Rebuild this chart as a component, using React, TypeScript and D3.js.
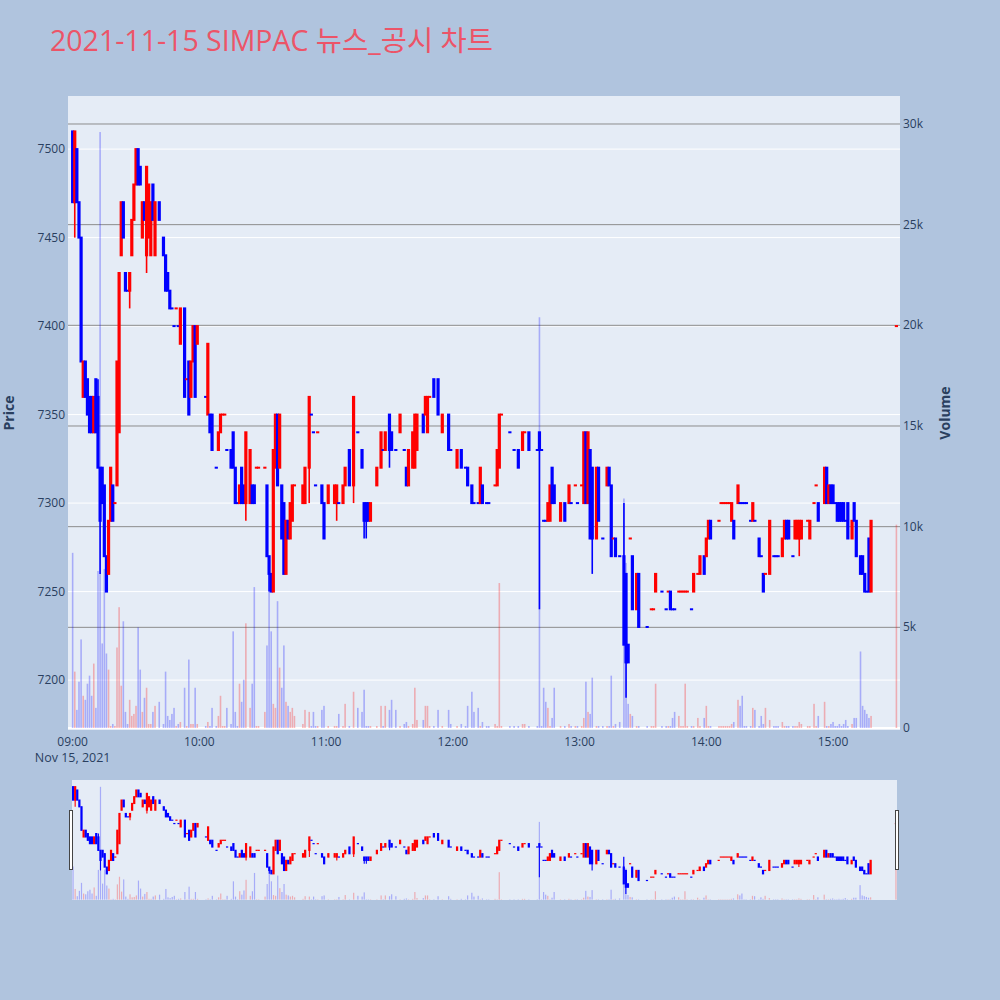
import React from "react";
import * as d3 from "d3";

// 2021-11-15 SIMPAC one-minute candles (price in KRW, volume in thousand shares)
const tradeDate = "2021-11-15";
const chartTitle = "2021-11-15 SIMPAC 뉴스_공시 차트";

const times = [
  "09:00","09:01","09:02","09:03","09:04","09:05","09:06","09:07","09:08","09:09",
  "09:10","09:11","09:12","09:13","09:14","09:15","09:16","09:17","09:18","09:19",
  "09:20","09:21","09:22","09:23","09:24","09:25","09:26","09:27","09:28","09:29",
  "09:30","09:31","09:32","09:33","09:34","09:35","09:36","09:37","09:38","09:39",
  "09:41","09:43","09:44","09:45","09:46","09:47","09:48","09:49","09:50","09:51",
  "09:53","09:54","09:55","09:56","09:57","09:58","09:59","10:03","10:04","10:05",
  "10:06","10:08","10:09","10:10","10:11","10:12","10:13","10:15","10:16","10:17",
  "10:18","10:19","10:20","10:21","10:22","10:24","10:25","10:26","10:27","10:28",
  "10:31","10:32","10:33","10:34","10:35","10:36","10:37","10:38","10:39","10:40",
  "10:41","10:42","10:43","10:44","10:45","10:49","10:50","10:52","10:53","10:54",
  "10:55","10:56","10:58","10:59","11:01","11:04","11:05","11:06","11:08","11:09",
  "11:11","11:13","11:15","11:17","11:18","11:19","11:20","11:21","11:24","11:26",
  "11:27","11:28","11:30","11:31","11:33","11:35","11:37","11:38","11:39","11:41",
  "11:42","11:43","11:46","11:47","11:48","11:49","11:51","11:53","11:55","11:58",
  "11:59","12:02","12:04","12:06","12:07","12:09","12:10","12:12","12:13","12:14",
  "12:16","12:17","12:20","12:21","12:22","12:23","12:27","12:29","12:31","12:33",
  "12:34","12:36","12:40","12:41","12:42","12:43","12:44","12:45","12:46","12:47",
  "12:48","12:51","12:53","12:55","12:56","12:58","12:59","13:01","13:02","13:03",
  "13:04","13:05","13:06","13:08","13:09","13:11","13:13","13:14","13:15","13:16",
  "13:17","13:19","13:21","13:22","13:23","13:24","13:25","13:27","13:28","13:32",
  "13:34","13:35","13:36","13:39","13:41","13:42","13:43","13:44","13:45","13:47",
  "13:48","13:49","13:50","13:51","13:53","13:54","13:56","13:57","13:59","14:00",
  "14:01","14:02","14:06","14:07","14:08","14:09","14:10","14:11","14:12","14:13",
  "14:15","14:16","14:17","14:18","14:19","14:21","14:22","14:23","14:25","14:26",
  "14:27","14:28","14:30","14:32","14:33","14:34","14:36","14:37","14:38","14:39",
  "14:41","14:42","14:43","14:44","14:45","14:48","14:49","14:51","14:52","14:53",
  "14:56","14:57","14:58","14:59","15:00","15:01","15:02","15:03","15:04","15:05",
  "15:06","15:07","15:09","15:10","15:11","15:13","15:14","15:15","15:16","15:17",
  "15:18","15:30",
];

const opens = [
  7510,7470,7500,7470,7450,7360,7380,7370,7360,7360,
  7340,7370,7360,7320,7320,7310,7270,7260,7290,7310,
  7300,7310,7340,7440,7470,7430,7420,7420,7440,7460,
  7480,7500,7490,7450,7470,7440,7450,7440,7480,7440,
  7470,7450,7440,7430,7420,7410,7400,7410,7400,7390,
  7410,7370,7380,7360,7380,7400,7390,7360,7350,7350,
  7350,7320,7330,7340,7350,7350,7330,7330,7340,7320,
  7300,7300,7320,7310,7300,7300,7310,7310,7320,7320,
  7320,7310,7270,7260,7250,7320,7350,7320,7310,7300,
  7260,7290,7280,7290,7310,7300,7300,7320,7350,7340,
  7310,7340,7310,7300,7300,7300,7300,7300,7300,7310,
  7330,7310,7340,7330,7300,7300,7300,7290,7310,7320,
  7330,7330,7350,7340,7330,7340,7330,7320,7310,7320,
  7320,7330,7350,7350,7340,7360,7370,7370,7340,7350,
  7330,7320,7330,7320,7320,7310,7300,7300,7300,7310,
  7300,7300,7310,7310,7320,7350,7340,7330,7330,7330,
  7340,7340,7330,7340,7330,7290,7290,7290,7290,7320,
  7310,7290,7300,7300,7300,7310,7300,7310,7300,7340,
  7300,7330,7320,7280,7320,7280,7310,7320,7310,7280,
  7280,7270,7270,7260,7220,7280,7270,7240,7260,7230,
  7240,7240,7250,7250,7240,7250,7250,7240,7240,7250,
  7250,7250,7250,7250,7240,7250,7260,7260,7270,7270,
  7280,7290,7290,7300,7300,7300,7300,7300,7290,7290,
  7300,7300,7300,7300,7300,7290,7290,7290,7280,7270,
  7260,7260,7260,7270,7270,7270,7270,7280,7290,7290,
  7270,7280,7280,7280,7280,7290,7280,7300,7310,7300,
  7300,7320,7300,7310,7310,7300,7300,7300,7300,7300,
  7290,7300,7280,7300,7290,7270,7270,7260,7250,7280,
  7250,7400,
];

const highs = [
  7510,7510,7500,7470,7450,7380,7380,7370,7360,7360,
  7360,7370,7370,7320,7320,7310,7270,7290,7320,7310,
  7300,7380,7430,7470,7470,7430,7420,7430,7460,7480,
  7500,7500,7490,7470,7470,7490,7480,7470,7480,7470,
  7470,7450,7440,7430,7420,7410,7400,7410,7400,7410,
  7410,7370,7380,7380,7400,7400,7400,7360,7390,7350,
  7350,7320,7340,7350,7350,7350,7330,7330,7340,7320,
  7300,7310,7320,7310,7340,7330,7310,7310,7320,7320,
  7320,7310,7270,7260,7330,7350,7350,7350,7310,7300,
  7290,7290,7300,7310,7310,7310,7320,7360,7350,7340,
  7310,7340,7310,7300,7310,7310,7310,7300,7310,7320,
  7330,7360,7340,7330,7300,7300,7300,7300,7320,7340,
  7330,7340,7350,7340,7330,7350,7330,7320,7330,7340,
  7350,7350,7350,7360,7360,7360,7370,7370,7350,7350,
  7330,7330,7330,7320,7320,7310,7300,7300,7320,7310,
  7300,7300,7310,7330,7350,7350,7340,7330,7330,7340,
  7340,7340,7330,7340,7330,7290,7290,7300,7310,7320,
  7310,7300,7300,7310,7300,7310,7300,7310,7340,7340,
  7340,7330,7320,7320,7320,7280,7320,7320,7310,7280,
  7280,7270,7300,7260,7220,7280,7270,7260,7260,7230,
  7240,7240,7260,7250,7240,7250,7250,7240,7240,7250,
  7250,7250,7250,7250,7240,7260,7260,7270,7270,7280,
  7290,7290,7290,7300,7300,7300,7300,7300,7300,7290,
  7310,7300,7300,7300,7300,7290,7300,7290,7280,7270,
  7260,7260,7290,7270,7270,7270,7280,7290,7290,7290,
  7270,7290,7290,7290,7290,7290,7290,7300,7310,7300,
  7320,7320,7310,7310,7310,7300,7300,7300,7300,7300,
  7290,7300,7290,7300,7290,7270,7270,7260,7250,7280,
  7290,7400,
];

const lows = [
  7470,7450,7470,7450,7380,7360,7360,7350,7340,7340,
  7340,7340,7320,7260,7300,7270,7250,7260,7290,7290,
  7300,7310,7340,7440,7450,7420,7420,7410,7440,7460,
  7480,7480,7480,7450,7460,7430,7450,7440,7460,7440,
  7460,7440,7420,7420,7410,7410,7400,7410,7400,7390,
  7360,7370,7350,7360,7380,7360,7390,7360,7350,7340,
  7330,7320,7330,7340,7350,7350,7330,7320,7320,7300,
  7300,7300,7300,7300,7290,7300,7300,7300,7320,7320,
  7320,7270,7250,7250,7250,7320,7310,7320,7280,7260,
  7260,7280,7280,7290,7310,7300,7300,7300,7350,7340,
  7310,7340,7300,7280,7300,7300,7290,7300,7300,7310,
  7310,7300,7340,7320,7280,7280,7290,7290,7310,7320,
  7330,7330,7320,7330,7330,7340,7330,7310,7310,7320,
  7320,7330,7340,7350,7340,7360,7360,7350,7340,7330,
  7330,7320,7320,7320,7310,7300,7300,7300,7300,7300,
  7300,7300,7310,7310,7320,7350,7340,7330,7320,7330,
  7340,7330,7330,7240,7330,7290,7290,7290,7290,7300,
  7300,7290,7290,7300,7300,7310,7300,7310,7300,7300,
  7300,7280,7260,7280,7290,7280,7310,7310,7270,7280,
  7270,7270,7220,7190,7210,7280,7240,7240,7230,7230,
  7240,7240,7250,7250,7240,7250,7240,7240,7240,7250,
  7250,7250,7250,7250,7240,7250,7260,7260,7260,7270,
  7280,7280,7290,7300,7300,7300,7300,7300,7290,7280,
  7300,7300,7300,7300,7300,7290,7290,7290,7270,7270,
  7250,7260,7260,7270,7270,7270,7270,7280,7280,7280,
  7270,7280,7280,7270,7280,7290,7280,7300,7310,7290,
  7300,7300,7300,7300,7300,7300,7290,7290,7290,7290,
  7290,7280,7280,7290,7270,7260,7260,7250,7250,7250,
  7250,7400,
];

const closes = [
  7470,7510,7470,7450,7380,7380,7360,7350,7340,7340,
  7360,7340,7320,7290,7300,7270,7250,7290,7320,7290,
  7300,7380,7430,7470,7450,7420,7420,7430,7460,7480,
  7500,7480,7480,7470,7460,7490,7480,7470,7460,7470,
  7460,7440,7420,7420,7410,7410,7400,7410,7400,7410,
  7360,7370,7350,7380,7400,7360,7400,7360,7390,7340,
  7330,7320,7340,7350,7350,7350,7330,7320,7320,7300,
  7300,7310,7300,7300,7340,7330,7300,7300,7320,7320,
  7320,7270,7260,7250,7330,7350,7310,7350,7280,7260,
  7290,7280,7300,7310,7310,7310,7320,7360,7350,7340,
  7310,7340,7300,7280,7310,7310,7310,7300,7310,7320,
  7310,7360,7340,7320,7290,7290,7290,7300,7320,7340,
  7330,7340,7330,7330,7330,7350,7330,7310,7330,7340,
  7350,7350,7340,7360,7360,7360,7360,7350,7350,7330,
  7330,7330,7320,7320,7310,7300,7300,7300,7320,7300,
  7300,7300,7310,7330,7350,7350,7340,7330,7320,7340,
  7340,7330,7330,7330,7330,7290,7290,7300,7310,7300,
  7300,7300,7290,7310,7300,7310,7300,7310,7340,7300,
  7340,7280,7280,7320,7290,7280,7320,7310,7270,7280,
  7270,7270,7220,7210,7210,7280,7240,7260,7230,7230,
  7240,7240,7260,7250,7240,7250,7240,7240,7240,7250,
  7250,7250,7250,7250,7240,7260,7260,7270,7260,7280,
  7290,7280,7290,7300,7300,7300,7300,7300,7300,7280,
  7310,7300,7300,7300,7300,7290,7300,7290,7270,7270,
  7250,7260,7290,7270,7270,7270,7280,7290,7280,7280,
  7270,7290,7290,7290,7290,7290,7290,7300,7310,7290,
  7320,7300,7310,7300,7300,7300,7290,7290,7290,7290,
  7290,7280,7290,7290,7270,7260,7260,7250,7250,7250,
  7290,7400,
];

const volumeK = [
  8.7,2.8,0.9,2.3,4.4,1.6,1.4,2.2,2.6,1.6,
  3.2,1.0,7.8,29.6,4.2,7.9,3.7,2.9,0.1,0.2,
  0.1,4.0,6.0,2.1,5.3,0.8,0.2,1.4,0.6,0.7,
  1.1,5.0,2.9,0.8,1.5,2.0,0.2,0.2,0.8,1.1,
  1.3,0.2,2.8,0.6,0.4,0.7,1.0,0.1,0.2,0.3,
  2.0,0.1,3.4,0.2,0.2,2.0,0.2,0.1,0.3,0.1,
  1.0,0.1,0.6,1.6,0.1,0.1,1.0,0.2,4.8,0.8,
  0.1,2.2,1.3,2.4,5.2,1.0,2.2,7.0,0.1,0.1,
  0.8,4.1,7.6,4.8,1.2,1.0,6.3,3.0,2.0,4.1,
  1.3,1.1,0.8,1.0,0.6,0.2,0.9,0.8,0.1,0.8,
  0.1,0.1,0.9,1.1,0.1,0.1,0.1,0.7,0.1,1.2,
  0.1,1.8,1.0,0.8,1.9,0.1,0.1,0.1,0.1,1.1,
  0.1,1.1,0.9,1.4,0.9,0.1,0.2,0.3,0.1,0.2,
  2.0,0.4,0.4,1.1,1.1,0.1,0.1,0.9,0.1,0.9,
  0.2,0.1,0.2,0.1,1.1,1.8,0.8,1.0,0.1,0.3,
  0.1,0.1,0.2,0.1,7.2,0.1,0.1,0.1,0.1,0.2,
  0.2,0.1,0.1,20.4,0.1,2.0,1.3,1.0,0.1,0.5,
  2.0,0.1,0.1,0.2,0.1,0.1,0.1,0.1,0.5,2.3,
  0.8,0.7,2.5,0.1,0.1,0.1,0.1,0.1,2.6,0.1,
  0.2,0.3,11.4,8.2,1.2,0.7,0.6,0.1,0.1,0.1,
  0.1,0.1,2.2,0.1,0.1,0.1,0.1,0.5,0.8,0.6,
  0.1,0.1,2.2,0.1,0.1,0.1,0.5,0.1,0.5,1.1,
  0.1,0.1,0.1,0.1,0.1,0.1,0.1,0.1,0.2,0.3,
  1.4,1.1,1.6,0.1,0.1,0.1,1.0,0.9,0.1,0.6,
  0.2,1.0,0.4,0.1,0.1,0.1,0.3,0.1,0.1,0.1,
  0.1,0.1,0.1,0.3,0.2,0.1,0.1,1.2,0.1,0.6,
  1.3,0.1,0.1,0.2,0.3,0.1,0.1,0.2,0.1,0.2,
  0.4,0.1,0.2,0.5,0.5,3.8,1.1,0.9,0.7,0.5,
  0.6,10.1,
];

const priceTicks = [7200, 7250, 7300, 7350, 7400, 7450, 7500];
const volumeTicksK = [0, 5, 10, 15, 20, 25, 30];
const hourTicks = ["09:00", "10:00", "11:00", "12:00", "13:00", "14:00", "15:00"];
const dateLabel = "Nov 15, 2021";

const FONT = "'Open Sans', 'Noto Sans CJK KR', sans-serif";
const AXIS_COLOR = "#2a3f5f";
const UP = "#ff0000";
const DOWN = "#0000ff";
const UP_VOL = "rgba(255,0,0,0.27)";
const DOWN_VOL = "rgba(0,0,255,0.27)";

type Bar = { t: Date; o: number; h: number; l: number; c: number; v: number; up: boolean };

export default function App() {
  const parse = d3.timeParse("%Y-%m-%d %H:%M");
  const at = (hm: string) => parse(`${tradeDate} ${hm}`) as Date;
  const sessionOpen = at("09:00");
  const offset = (min: number) => new Date(sessionOpen.getTime() + min * 60000);

  // direction: close vs open, ties resolved against the previous close
  let prevClose: number | null = null;
  let prevUp = false;
  const bars: Bar[] = times.map((tm, i) => {
    const o = opens[i], c = closes[i];
    let up: boolean;
    if (c > o) up = true;
    else if (c < o) up = false;
    else if (prevClose === null) up = false;
    else if (c > prevClose) up = true;
    else if (c < prevClose) up = false;
    else up = prevUp;
    prevClose = c;
    prevUp = up;
    return { t: at(tm), o, h: highs[i], l: lows[i], c, v: volumeK[i], up };
  });

  const plot = { left: 68, right: 900, top: 96, bottom: 730 };
  const slider = { left: 72, right: 897, top: 780, bottom: 900 };

  const x = d3.scaleTime().domain([offset(-2.2), offset(391.7)]).range([plot.left, plot.right]);
  const yP = d3.scaleLinear().domain([7171.8, 7530]).range([plot.bottom, plot.top]);
  const yV = d3.scaleLinear().domain([-0.0993, 31.39]).range([plot.bottom, plot.top]);

  const xs = d3.scaleTime().domain([offset(-0.5), offset(390.5)]).range([slider.left, slider.right]);
  const yPs = yP.copy().range([slider.bottom, slider.top]);
  const yVs = yV.copy().range([slider.bottom, slider.top]);

  const renderMarks = (
    xs_: d3.ScaleTime<number, number>,
    yp: d3.ScaleLinear<number, number>,
    yv: d3.ScaleLinear<number, number>,
    bodyW: number,
    wickW: number,
    volW: number,
    edge: number,
    key: string
  ) => (
    <g key={key}>
      <g>
        {bars.map((b, i) => {
          const cx = xs_(b.t);
          const top = yv(b.v);
          return (
            <rect
              key={`v${i}`}
              x={cx - volW / 2}
              y={top}
              width={volW}
              height={Math.max(0, yv(0) - top)}
              fill={b.up ? UP_VOL : DOWN_VOL}
            />
          );
        })}
      </g>
      <g>
        {bars.map((b, i) => {
          const cx = xs_(b.t);
          const col = b.up ? UP : DOWN;
          const yTop = yp(Math.max(b.o, b.c));
          const yBot = yp(Math.min(b.o, b.c));
          return (
            <g key={`c${i}`}>
              <line x1={cx} x2={cx} y1={yp(b.h)} y2={yp(b.l)} stroke={col} strokeWidth={wickW} />
              <rect
                x={cx - bodyW / 2}
                y={yTop - edge}
                width={bodyW}
                height={yBot - yTop + 2 * edge}
                fill={col}
              />
            </g>
          );
        })}
      </g>
    </g>
  );

  return (
    <svg
      width={1000}
      height={1000}
      style={{ position: "absolute", left: 0, top: 0, display: "block" }}
      fontFamily={FONT}
    >
      <defs>
        <clipPath id="plotClip">
          <rect x={plot.left} y={plot.top} width={plot.right - plot.left} height={plot.bottom - plot.top} />
        </clipPath>
        <clipPath id="sliderClip">
          <rect x={slider.left} y={slider.top} width={slider.right - slider.left} height={slider.bottom - slider.top} />
        </clipPath>
      </defs>

      <rect x={0} y={0} width={1000} height={1000} fill="#b0c4de" />

      <text x={50} y={51} fontSize={28.5} fill="#ec5468">
        {chartTitle}
      </text>

      {/* main plot */}
      <rect
        x={plot.left}
        y={plot.top}
        width={plot.right - plot.left}
        height={plot.bottom - plot.top}
        fill="#e5ecf6"
      />
      {priceTicks.map((p) => (
        <line key={`pg${p}`} x1={plot.left} x2={plot.right} y1={yP(p)} y2={yP(p)} stroke="#ffffff" strokeWidth={1} />
      ))}
      {volumeTicksK.filter((v) => v > 0).map((v) => (
        <line key={`vg${v}`} x1={plot.left} x2={plot.right} y1={yV(v)} y2={yV(v)} stroke="#8c8c8c" strokeWidth={1} />
      ))}
      <line x1={plot.left} x2={plot.right} y1={yV(0)} y2={yV(0)} stroke="#ffffff" strokeWidth={2} />

      <g clipPath="url(#plotClip)">{renderMarks(x, yP, yV, 3.2, 1.6, 1.6, 1, "main")}</g>

      {/* price axis */}
      {priceTicks.map((p) => (
        <text key={`pl${p}`} x={65} y={yP(p) + 4} fontSize={12} fill={AXIS_COLOR} textAnchor="end">
          {p}
        </text>
      ))}
      <text
        transform={`translate(14, ${(plot.top + plot.bottom) / 2}) rotate(-90)`}
        fontSize={14}
        fontWeight="bold"
        fill={AXIS_COLOR}
        textAnchor="middle"
      >
        Price
      </text>

      {/* volume axis */}
      {volumeTicksK.map((v) => (
        <text key={`vl${v}`} x={903} y={yV(v) + 4} fontSize={12} fill={AXIS_COLOR} textAnchor="start">
          {v === 0 ? "0" : `${v}k`}
        </text>
      ))}
      <text
        transform={`translate(950, ${(plot.top + plot.bottom) / 2}) rotate(-90)`}
        fontSize={14}
        fontWeight="bold"
        fill={AXIS_COLOR}
        textAnchor="middle"
      >
        Volume
      </text>

      {/* time axis */}
      {hourTicks.map((h) => (
        <text key={`xl${h}`} x={x(at(h))} y={746} fontSize={12} fill={AXIS_COLOR} textAnchor="middle">
          {h}
        </text>
      ))}
      <text x={x(at("09:00"))} y={762} fontSize={12.5} fill={AXIS_COLOR} textAnchor="middle">
        {dateLabel}
      </text>

      {/* range slider */}
      <rect
        x={slider.left}
        y={slider.top}
        width={slider.right - slider.left}
        height={slider.bottom - slider.top}
        fill="#e5ecf6"
      />
      <g clipPath="url(#sliderClip)">{renderMarks(xs, yPs, yVs, 2.2, 1.1, 1.2, 0.6, "mini")}</g>
      <rect x={69.5} y={810.5} width={3} height={59} fill="#ffffff" stroke="#444444" strokeWidth={1} />
      <rect x={895.5} y={810.5} width={3} height={59} fill="#ffffff" stroke="#444444" strokeWidth={1} />
    </svg>
  );
}
